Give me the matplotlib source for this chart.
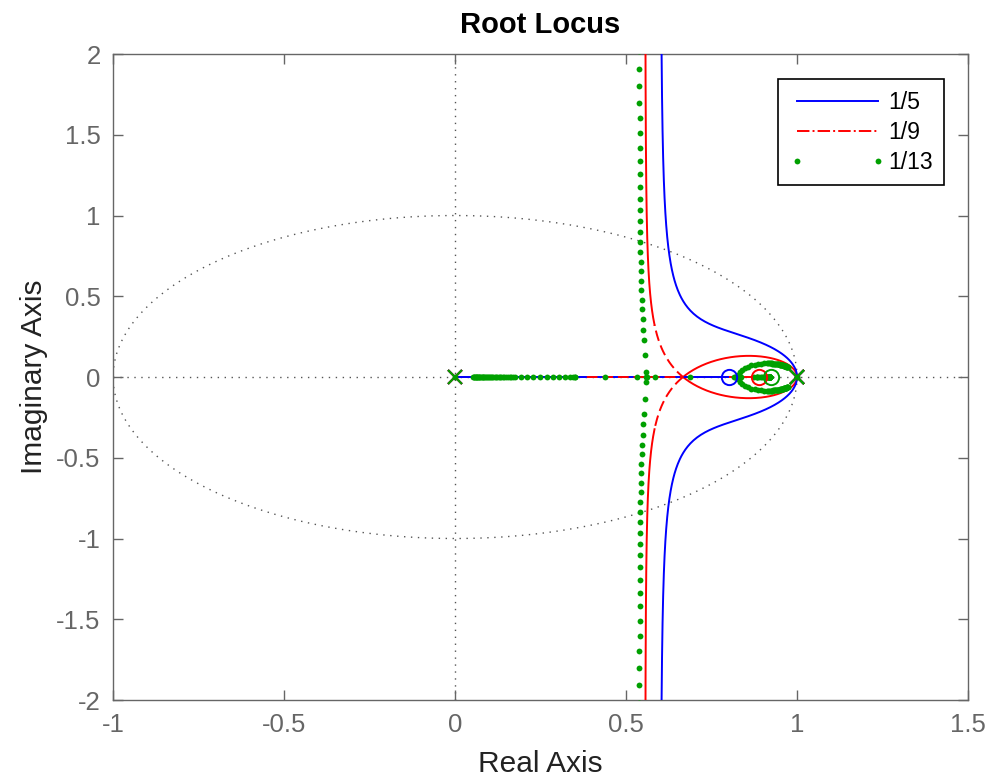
import numpy as np
import matplotlib
matplotlib.use('Agg')
from matplotlib import pyplot as plt
from matplotlib.lines import Line2D
from itertools import permutations

plt.rcParams['font.family'] = ['Liberation Sans', 'DejaVu Sans']
plt.rcParams['axes.unicode_minus'] = False

# open loop: K*(z - zero) / (z*(z-1)^2), one zero per sampling period
labels = ['1/5', '1/9', '1/13']
ol_poles = [0.0, 1.0, 1.0]
ol_zeros = [0.8, 8 / 9, 12 / 13]
colors = ['#0000ff', '#ff0000', '#00a000']

# gain samples (break points: red triple point K=1/3,
# green break-in K~0.258, breakaway K~0.2987)
k_red_triple = 1 / 3
k_blue = np.concatenate([[0.0], np.logspace(-5, 1.5, 900)])
k_red = np.unique(np.concatenate([[0.0], np.logspace(-5, 1.5, 900),
                                  k_red_triple * (1 - np.logspace(-8, -0.3, 120)),
                                  k_red_triple * (1 + np.logspace(-8, -0.3, 120))]))
k_green = np.concatenate([[0.0], np.logspace(np.log10(0.055), np.log10(0.16), 40),
                          [0.172, 0.184, 0.196, 0.208, 0.219, 0.229, 0.238,
                           0.246, 0.252, 0.2565, 0.2578, 0.2581],
                          [0.285, 0.298, 0.2986, 0.2995, 0.316, 0.346, 0.379],
                          np.logspace(np.log10(0.42), np.log10(6), 26)])
gains = [k_blue, k_red, k_green]


def locus(zero, ks):
    den = np.poly(ol_poles)
    num = np.concatenate([[0.0, 0.0], np.poly([zero])])
    out = []
    prev = None
    for k in ks:
        r = np.roots(den + k * num).astype(complex)
        if prev is None:
            r = np.sort_complex(r)
        else:
            best = min(permutations(range(3)),
                       key=lambda p: np.sum(np.abs(r[list(p)] - prev)))
            r = r[list(best)]
        prev = r
        out.append(r)
    return np.array(out)


def red_dashed(zm, km):
    # parts that matlab drew with visible dash-dot gaps
    on_axis = abs(zm.imag) < 1e-4
    if km < k_red_triple:
        return on_axis and 0.38 < zm.real < 0.666
    return (not on_axis) and abs(zm.imag) < 0.32


fig = plt.figure(figsize=(9.89, 7.83), dpi=100)
ax = fig.add_axes([0.1143, 0.106, 0.8645, 0.8250])

grey = '#555555'
# unit circle and axis lines (zgrid style)
th = np.linspace(0, 2 * np.pi, 400)
ax.plot(np.cos(th), np.sin(th), color=grey, lw=1.0, ls=(0, (1, 4)), zorder=1)
ax.plot([-1, 1.5], [0, 0], color=grey, lw=1.0, ls=(0, (1, 4)), zorder=1)
ax.plot([0, 0], [-2, 2], color=grey, lw=1.0, ls=(0, (1, 4)), zorder=1)

for i in range(3):
    ks = gains[i]
    r = locus(ol_zeros[i], ks)
    c = colors[i]
    for b in range(3):
        zs = r[:, b]
        if i == 0:
            ax.plot(zs.real, zs.imag, color=c, lw=1.4, zorder=3.5)
        elif i == 1:
            flags = [red_dashed((zs[j] + zs[j + 1]) / 2, (ks[j] + ks[j + 1]) / 2)
                     for j in range(len(zs) - 1)]
            start = 0
            for j in range(1, len(flags) + 1):
                if j == len(flags) or flags[j] != flags[start]:
                    part = zs[start:j + 1]
                    if flags[start]:
                        ax.plot(part.real, part.imag, color=c, lw=1.4,
                                ls=(0, (5.5, 2.5)), zorder=4)
                    else:
                        ax.plot(part.real, part.imag, color=c, lw=1.4, zorder=3)
                    start = j
        else:
            ax.plot(zs.real, zs.imag, ls='none', marker='o', ms=4.2, mew=0,
                    color=c, zorder=4.5)
    ax.plot([ol_zeros[i]], [0], ls='none', marker='o', ms=11, mew=1.4,
            mfc='none', mec=c, zorder=5)
    ax.plot(ol_poles, [0, 0, 0], ls='none', marker='x', ms=10, mew=1.5,
            color=c, zorder=5)

ax.set_xlim(-1, 1.5)
ax.set_ylim(-2, 2)
ax.set_xticks([-1, -0.5, 0, 0.5, 1, 1.5])
ax.set_xticklabels(['-1', '-0.5', '0', '0.5', '1', '1.5'])
ax.set_yticks([-2, -1.5, -1, -0.5, 0, 0.5, 1, 1.5, 2])
ax.set_yticklabels(['-2', '-1.5', '-1', '-0.5', '0', '0.5', '1', '1.5', '2'])
ax.tick_params(direction='in', length=7, width=1, colors='#666666',
               labelsize=18.5, top=True, right=True, pad=9)
for s in ax.spines.values():
    s.set_color('#666666')
    s.set_linewidth(1.0)

ax.set_xlabel('Real Axis', fontsize=21.5, color='#222222', labelpad=10)
ax.set_ylabel('Imaginary Axis', fontsize=21.5, color='#222222', labelpad=6)
ax.set_title('Root Locus', fontsize=21, fontweight='bold', pad=15)

handles = [Line2D([], [], color=colors[0], lw=1.4),
           Line2D([], [], color=colors[1], lw=1.4, ls='-.'),
           Line2D([], [], color=colors[2], ls='none', marker='o', ms=4.2, mew=0)]
leg = ax.legend(handles, labels, loc='upper right', bbox_to_anchor=(0.972, 0.961),
                borderaxespad=0, fontsize=16.6, handlelength=4.1, numpoints=2,
                fancybox=False, edgecolor='black', framealpha=1,
                borderpad=0.5, labelspacing=0.3, handletextpad=0.15)
leg.get_frame().set_linewidth(1.2)

fig.savefig('out.png', dpi=100)
